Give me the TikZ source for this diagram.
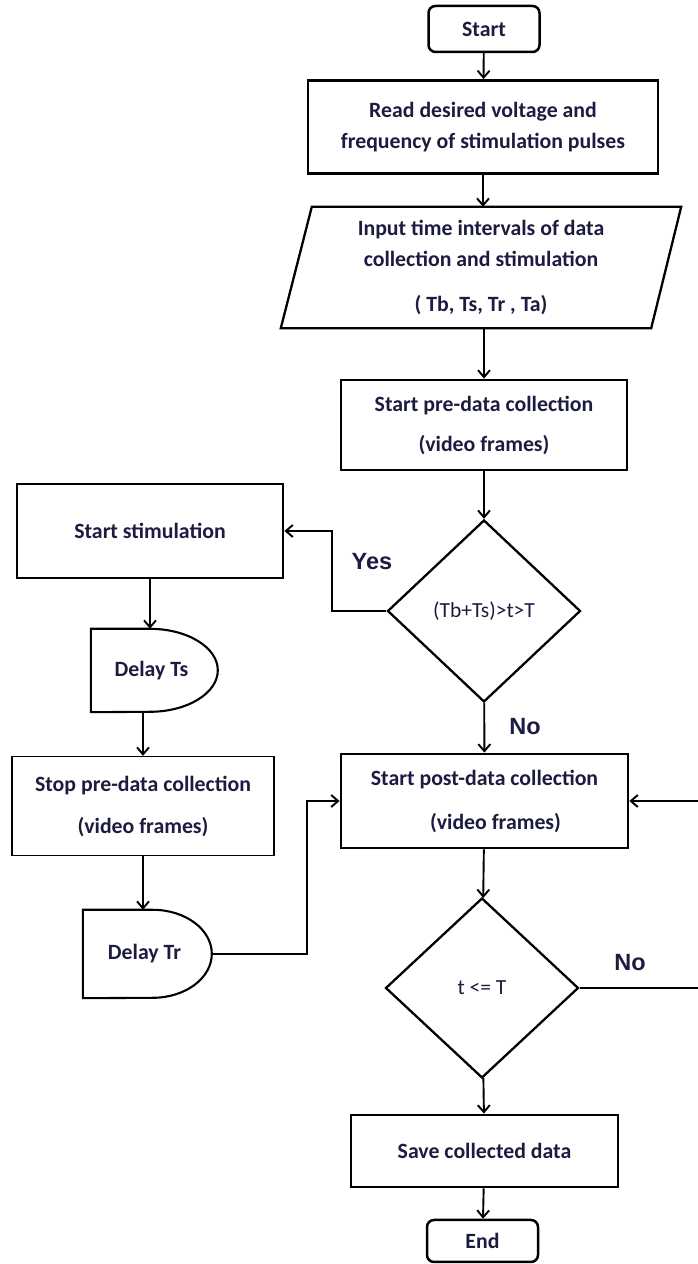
\documentclass[tikz,border=0pt]{standalone}
\usepackage{fontspec}
\setmainfont{Carlito}
\newfontfamily\lblfont{Liberation Sans}
\usetikzlibrary{shapes.geometric,arrows.meta,calc}
\definecolor{txt}{HTML}{1C1C40}
\begin{document}
\begin{tikzpicture}[x=1pt,y=1pt,
  every node/.style={font=\fontsize{21.8}{31}\selectfont\bfseries, text=txt, align=center, inner sep=0pt},
  box/.style={draw=black, line width=2.8pt},
  thinbox/.style={draw=black, line width=1.4pt},
  term/.style={draw=black, line width=2.5pt, rounded corners=7pt},
  dec/.style={draw=black, shape=diamond, line width=2.3pt, inner sep=0pt, font=\fontsize{21.5}{30}\selectfont},
  dshape/.style={draw=black, line width=2.1pt},
  conn/.style={line width=1.9pt},
  arr/.style={conn, -{Straight Barb[length=7pt,width=12pt,line width=1.9pt]}},
  lbl/.style={font=\fontsize{23.5}{28}\selectfont\lblfont\bfseries, text=txt}
]
\useasboundingbox (0,0) rectangle (697,1264);

% main column
\node[term, minimum width=111pt, minimum height=46pt] (start) at (484,1235) {Start};
\node[box, minimum width=350pt, minimum height=93pt] (read) at (483,1137)
  {Read desired voltage and\\frequency of stimulation pulses};
\node[minimum width=370pt, minimum height=121pt] (input) at (481,996.5)
  {Input time intervals of data\\collection and stimulation\\[14pt]( Tb, Ts, Tr , Ta)};
\draw[line width=2.3pt] ($(input.north west)+(16,0)$) -- ($(input.north east)+(15,0)$)
  -- ($(input.south east)+(-15,0)$) -- ($(input.south west)+(-15,0)$) -- cycle;
\node[box, minimum width=286pt, minimum height=90pt] (pre) at (484,839)
  {Start pre-data collection\\[9pt](video frames)};
\node[dec, minimum width=193pt, minimum height=182pt] (d1) at (484,653) {(Tb+Ts)>t>T};
\node[box, minimum width=287pt, minimum height=94pt] (post) at (484.5,463)
  {Start post-data collection\\[13pt]\hspace*{22pt}(video frames)};
\node[dec, minimum width=193pt, minimum height=180pt] (d2) at (482,276) {t <= T};
\node[box, minimum width=267pt, minimum height=72pt] (save) at (484.5,113) {Save collected data};
\node[term, minimum width=111pt, minimum height=42pt] (end) at (482.5,23) {End};

% left column
\node[box, minimum width=266pt, minimum height=94pt] (stim) at (150,733) {Start stimulation};
\node[minimum width=127pt, minimum height=83pt] (dts) at (154.5,593.5) {\hspace*{-6pt}Delay Ts};
\draw[dshape] (dts.north west) -- ++(59,0) arc[start angle=90,end angle=-90,x radius=68,y radius=41.5]
  -- (dts.south west) -- cycle;
\node[thinbox, minimum width=262pt, minimum height=99pt] (stop) at (143,458)
  {Stop pre-data collection\\[11pt](video frames)};
\node[minimum width=129pt, minimum height=88pt] (dtr) at (147.5,310) {\hspace*{-6pt}Delay Tr};
\draw[dshape] (dtr.north west) -- ++(70,0) arc[start angle=90,end angle=-90,x radius=59,y radius=44]
  -- (dtr.south west) -- cycle;

% connectors
\draw[arr] (start) -- (read);
\draw[arr] (read.south) -- (read.south |- input.north);
\draw[arr] (input.south -| pre.north) -- (pre.north);
\draw[arr] (pre) -- (d1);
\draw[arr] (d1.west) -- ++(-54,0) |- (stim.east);
\draw[arr] (d1) -- (post);
\draw[arr] (stim.south) -- (stim.south |- dts.north);
\draw[arr] (stop.north |- dts.south) -- (stop.north);
\draw[arr] (stop.south) -- (stop.south |- dtr.north);
\draw[arr] (dtr.east) -- (307,310) |- (post.west);
\draw[arr] (post) -- (d2);
\coordinate (loop) at (702,276);
\draw[arr] (d2.east) -- (loop) |- (post.east);
\draw[arr] (d2) -- (save);
\draw[arr] (save) -- (end);

% labels
\node[lbl] (yes) at (372,702) {Yes};
\node[lbl] (no1) at (525,537) {No};
\node[lbl] (no2) at (630,301) {No};
\end{tikzpicture}
\end{document}
